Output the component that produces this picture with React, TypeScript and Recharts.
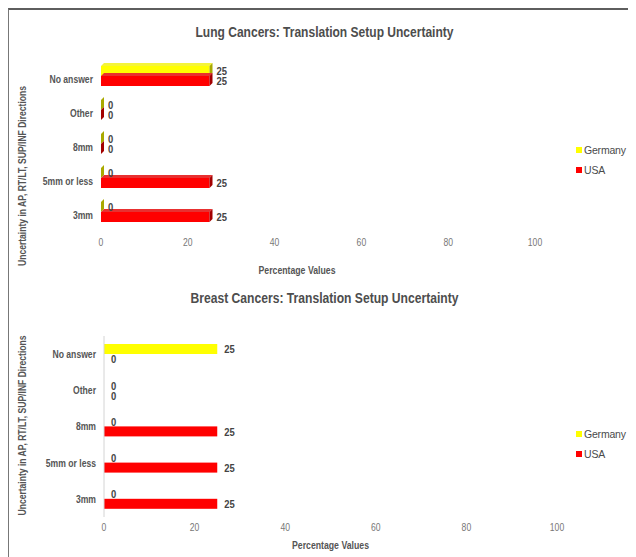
import React from "react";
import { BarChart, Bar, XAxis, YAxis, Legend, LabelList } from "recharts";

const categories = ["No answer", "Other", "8mm", "5mm or less", "3mm"];
const lungGermany = [25, 0, 0, 0, 0];
const lungUSA = [25, 0, 0, 25, 25];
const breastGermany = [25, 0, 0, 0, 0];
const breastUSA = [0, 0, 25, 25, 25];
const percentTicks = [0, 20, 40, 60, 80, 100];

const SANS = "'Liberation Sans', Arial, sans-serif";
const Y_TITLE = "Uncertainty in AP, RT/LT, SUP/INF Directions";
const X_TITLE = "Percentage Values";
const LEGEND_W = 60;

const toRows = (germany: number[], usa: number[]) =>
  categories.map((name, i) => ({ name, germany: germany[i], usa: usa[i] }));

// Arial squeezed to 82% width, close to Arial Narrow
function NText({ x, y, k = 0.82, children, ...rest }: any) {
  return (
    <text transform={`translate(${x},${y}) scale(${k},1)`} x={0} y={0} fontFamily={SANS} {...rest}>
      {children}
    </text>
  );
}

// front face + top + side, so even a zero bar leaves a thin sliver
function Box3D(props: any) {
  const { x, y, width, height, fill, sideFill, topFill } = props;
  const d = 3;
  const w = Math.max(width || 0, 0);
  return (
    <g>
      <rect x={x} y={y} width={w} height={height} fill={fill} />
      <polygon points={`${x},${y} ${x + d},${y - d} ${x + w + d},${y - d} ${x + w},${y}`} fill={topFill} />
      <polygon
        points={`${x + w},${y} ${x + w + d},${y - d} ${x + w + d},${y + height - d} ${x + w},${y + height}`}
        fill={sideFill}
      />
    </g>
  );
}

function FlatBar(props: any) {
  const { x, y, width, height, fill } = props;
  if (!width) return <g />;
  return <rect x={x} y={y} width={width} height={height} fill={fill} />;
}

function CategoryTick({ x, y, payload, shift }: any) {
  return (
    <NText x={x} y={y + shift} textAnchor="end" dominantBaseline="central" fontSize={10.5} fontWeight={700} fill="#555">
      {payload.value}
    </NText>
  );
}

function PercentTick({ x, y, payload }: any) {
  return (
    <NText x={x} y={y} textAnchor="middle" dominantBaseline="hanging" fontSize={10.5} fill="#777">
      {payload.value}
    </NText>
  );
}

function ValueLabel(lp: any) {
  const vb = lp.viewBox || lp;
  return (
    <NText
      x={vb.x + (vb.width || 0) + 7}
      y={vb.y + vb.height / 2}
      dominantBaseline="central"
      fontSize={11.5}
      fontWeight={700}
      fill="#444"
    >
      {lp.value}
    </NText>
  );
}

function LegendBox({ payload }: any) {
  return (
    <div style={{ fontFamily: SANS, fontSize: 10.5, letterSpacing: -0.2, color: "#4a4a4a", whiteSpace: "nowrap" }}>
      {(payload || []).map((p: any) => (
        <div key={p.value} style={{ display: "flex", alignItems: "center", height: 20 }}>
          <span style={{ width: 6, height: 6, background: p.color, marginRight: 2, flexShrink: 0 }} />
          <span>{p.value}</span>
        </div>
      ))}
    </div>
  );
}

type PanelProps = {
  title: string;
  titleWidth: number;
  rows: { name: string; germany: number; usa: number }[];
  top: number;
  height: number;
  margin: { top: number; right: number; bottom: number; left: number };
  yWidth: number;
  titleY: number;
  legendTop: number;
  catShift: number;
  yTitleShift: number;
  xTitleShift: number;
  xTitleGap: number;
  xTickMargin: number;
  threeD: boolean;
};

function Panel(p: PanelProps) {
  const W = 627;
  return (
    <div style={{ position: "absolute", left: 0, top: p.top, width: W, height: p.height }}>
      <svg width={W} height={40} style={{ position: "absolute", left: 0, top: 0 }}>
        <text
          x={W / 2 + 2}
          y={p.titleY}
          textAnchor="middle"
          dominantBaseline="central"
          fontFamily={SANS}
          fontSize={15}
          fontWeight={700}
          fill="#4d4d4d"
          textLength={p.titleWidth}
          lengthAdjust="spacingAndGlyphs"
        >
          {p.title}
        </text>
      </svg>
      <BarChart width={W} height={p.height} data={p.rows} layout="vertical" margin={p.margin} barGap={0}>
        <XAxis
          type="number"
          domain={[0, 100]}
          ticks={percentTicks}
          axisLine={false}
          tickLine={false}
          tickMargin={p.xTickMargin}
          tick={<PercentTick />}
          label={(lp: any) => {
            const vb = lp.viewBox;
            return (
              <text
                x={vb.x + vb.width / 2 + p.xTitleShift}
                y={vb.y + p.xTitleGap}
                textAnchor="middle"
                dominantBaseline="central"
                fontFamily={SANS}
                fontSize={10.5}
                fontWeight={700}
                fill="#555"
                textLength={77}
                lengthAdjust="spacingAndGlyphs"
              >
                {X_TITLE}
              </text>
            );
          }}
        />
        <YAxis
          type="category"
          dataKey="name"
          width={p.yWidth}
          axisLine={p.threeD ? false : { stroke: "#d4d4d4" }}
          tickLine={false}
          tick={<CategoryTick shift={p.catShift} />}
          label={(lp: any) => {
            const vb = lp.viewBox;
            const cy = vb.y + vb.height / 2 + p.yTitleShift;
            return (
              <text
                x={13}
                y={cy}
                transform={`rotate(-90 13 ${cy})`}
                textAnchor="middle"
                dominantBaseline="central"
                fontFamily={SANS}
                fontSize={10.5}
                fontWeight={700}
                fill="#555"
                textLength={180}
                lengthAdjust="spacingAndGlyphs"
              >
                {Y_TITLE}
              </text>
            );
          }}
        />
        <Legend
          layout="vertical"
          align="right"
          verticalAlign="middle"
          width={LEGEND_W}
          wrapperStyle={{ left: 567, right: "auto", top: p.legendTop }}
          content={<LegendBox />}
        />
        <Bar
          dataKey="germany"
          name="Germany"
          fill="#ffff00"
          barSize={10}
          isAnimationActive={false}
          shape={(s: any) =>
            p.threeD ? <Box3D {...s} topFill="#f4f43a" sideFill="#a9a900" /> : <FlatBar {...s} />
          }
        >
          <LabelList dataKey="germany" content={<ValueLabel />} />
        </Bar>
        <Bar
          dataKey="usa"
          name="USA"
          fill="#ff0000"
          barSize={10}
          isAnimationActive={false}
          shape={(s: any) =>
            p.threeD ? <Box3D {...s} topFill="#e83030" sideFill="#a30000" /> : <FlatBar {...s} />
          }
        >
          <LabelList dataKey="usa" content={<ValueLabel />} />
        </Bar>
      </BarChart>
    </div>
  );
}

export default function App() {
  return (
    <div
      style={{
        position: "relative",
        width: 627,
        height: 547,
        borderTop: "2px solid #5e5e5e",
        borderLeft: "1px solid #777",
        overflow: "hidden",
        background: "#fff",
      }}
    >
      <Panel
        title="Lung Cancers: Translation Setup Uncertainty"
        titleWidth={258}
        rows={toRows(lungGermany, lungUSA)}
        top={0}
        height={270}
        margin={{ top: 49, right: 41, bottom: 21, left: 0 }}
        yWidth={92}
        titleY={21}
        legendTop={130}
        catShift={3}
        yTitleShift={32}
        xTitleShift={-21}
        xTitleGap={41}
        xTickMargin={3}
        threeD
      />
      <Panel
        title="Breast Cancers: Translation Setup Uncertainty"
        titleWidth={268}
        rows={toRows(breastGermany, breastUSA)}
        top={270}
        height={277}
        margin={{ top: 56, right: 19, bottom: 10, left: 0 }}
        yWidth={95}
        titleY={17}
        legendTop={144}
        catShift={0}
        yTitleShift={-1}
        xTitleShift={0}
        xTitleGap={28}
        xTickMargin={0}
        threeD={false}
      />
    </div>
  );
}
